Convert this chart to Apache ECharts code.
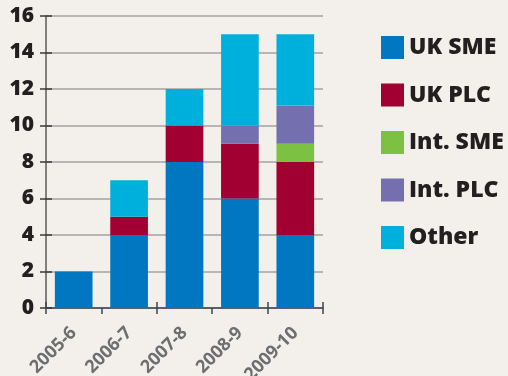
<!DOCTYPE html>
<html><head><meta charset="utf-8">
<script src="https://cdn.jsdelivr.net/npm/echarts@6/dist/echarts.min.js"></script>
<style>html,body{margin:0;padding:0;background:#f3f0eb}#c{width:508px;height:376px}</style>
</head><body><div id="c"></div>
<script>
var categories = ['2005-6', '2006-7', '2007-8', '2008-9', '2009-10'];
var ukSme   = [2, 4, 8, 6, 4];
var ukPlc   = [0, 1, 2, 3, 4];
var intSme  = [0, 0, 0, 0, 1];
var intPlc  = [0, 0, 0, 1, 2.1];
var other   = [0, 2, 2, 5, 3.9];
var yTicks  = [0, 2, 4, 6, 8, 10, 12, 14, 16];

var names  = ['UK SME', 'UK PLC', 'Int. SME', 'Int. PLC', 'Other'];
var colors = ['#0077c0', '#a00032', '#7dc142', '#7470b0', '#00b0dc'];
var values = [ukSme, ukPlc, intSme, intPlc, other];

var chart = echarts.init(document.getElementById('c'));
var font = '"Open Sans", sans-serif';
var yAxisBase = {
  type: 'value', min: yTicks[0], max: yTicks[yTicks.length - 1], interval: 2,
  position: 'left'
};
chart.setOption({
  backgroundColor: '#f3f0eb',
  animation: false,
  grid: { left: 46, right: 185, top: 16, bottom: 68, containLabel: false, outerBoundsMode: 'none' },
  legend: {
    orient: 'vertical', left: 381, top: 36, padding: 0,
    itemWidth: 23, itemHeight: 23, itemGap: 24.5,
    icon: 'rect',
    textStyle: { fontFamily: font, fontWeight: 800, fontSize: 23, color: '#231f20' },
    data: names
  },
  xAxis: [{
    type: 'category', data: categories,
    axisLine: { lineStyle: { color: '#3a4650', width: 1.5 } },
    axisTick: { show: true, length: 6, lineStyle: { color: '#3a4650', width: 1.5 } },
    axisLabel: { rotate: 45, fontFamily: font, fontWeight: 700, fontSize: 18, color: '#6d6e70', margin: 22 }
  }, {
    type: 'category', data: categories, position: 'bottom',
    axisLine: { show: false },
    axisTick: { show: true, inside: true, length: 6, lineStyle: { color: '#3a4650', width: 1.5 } },
    axisLabel: { show: false }
  }],
  yAxis: [Object.assign({}, yAxisBase, {
    axisLine: { show: true, lineStyle: { color: '#5a5a5a', width: 1.5 } },
    axisTick: { show: true, length: 6, lineStyle: { color: '#3a3a3a', width: 1.5 } },
    axisLabel: { fontFamily: font, fontWeight: 800, fontSize: 21, color: '#231f20', margin: 12 },
    splitLine: { show: true, lineStyle: { color: '#a3a3a3', width: 1.5 } }
  }), Object.assign({}, yAxisBase, {
    axisLine: { show: false },
    axisTick: { show: true, inside: true, length: 6, lineStyle: { color: '#3a3a3a', width: 1.5 } },
    axisLabel: { show: false },
    splitLine: { show: false }
  })],
  series: names.map(function (n, i) {
    return {
      name: n, type: 'bar', stack: 'total', data: values[i],
      barCategoryGap: '32%', itemStyle: { color: colors[i] }
    };
  })
});
</script></body></html>
